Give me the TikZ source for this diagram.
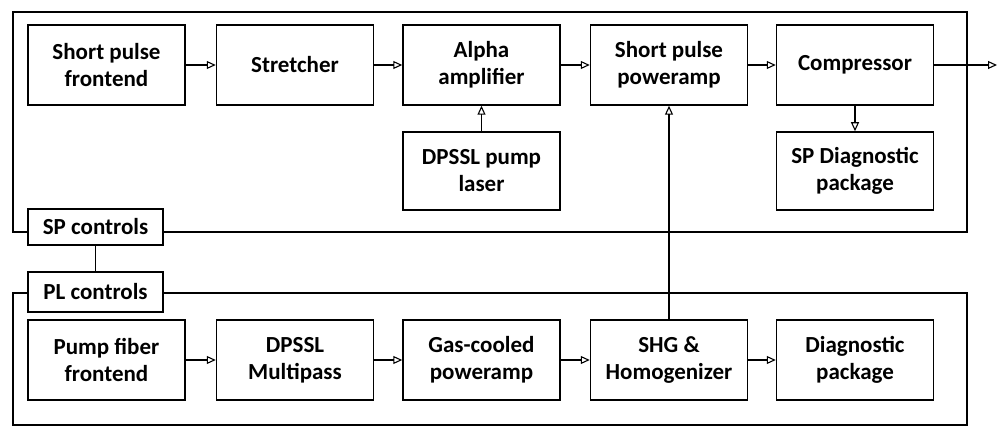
\documentclass[tikz,border=0pt]{standalone}
\usepackage{fontspec}
\setmainfont{Carlito}
\usetikzlibrary{arrows.meta}
\begin{document}
\begin{tikzpicture}[x=1pt,y=-1pt,
  blk/.style={draw, line width=1.5pt, minimum width=157pt, minimum height=80pt, align=center, inner sep=2pt,
    font=\bfseries\fontsize{23}{27}\selectfont},
  ctl/.style={draw, line width=1.5pt, fill=white, minimum width=135pt, align=center, inner sep=2pt,
    font=\bfseries\fontsize{23}{27}\selectfont},
  frame/.style={line width=1.5pt},
  conn/.style={line width=1.3pt, -{Triangle[open,length=9pt,width=8pt,line width=1.1pt]}},
  link/.style={line width=1.3pt}]
\useasboundingbox (0,0) rectangle (999,427);
\fill[white] (0,0) rectangle (999,427);
% frames
\draw[frame] (13,12) rectangle (967,232);
\draw[frame] (13,293) rectangle (967,425);
% top row
\node[blk] (spf) at (106.5,65) {Short pulse\\frontend};
\node[blk] (str) at (295,65) {Stretcher};
\node[blk] (alp) at (481.5,65) {Alpha\\amplifier};
\node[blk] (spp) at (669,65) {Short pulse\\poweramp};
\node[blk] (cmp) at (855,65) {Compressor};
\node[blk, minimum height=78pt] (dps) at (481.5,171) {DPSSL pump\\laser};
\node[blk, minimum height=78pt] (spd) at (855,171) {SP Diagnostic\\package};
% controls
\node[ctl, minimum height=36pt] (spc) at (95.5,227) {SP controls};
\node[ctl, minimum height=40pt] (plc) at (95.5,292) {PL controls};
% bottom row
\node[blk] (pff) at (106.5,360) {Pump fiber\\frontend};
\node[blk] (mul) at (295,360) {DPSSL\\Multipass};
\node[blk] (gas) at (481.5,360) {Gas-cooled\\poweramp};
\node[blk] (shg) at (669,360) {SHG \&\\Homogenizer};
\node[blk] (dia) at (855,360) {Diagnostic\\package};
\coordinate (out) at (997,65);
% connectors
\draw[conn] (spf) -- (str);
\draw[conn] (str) -- (alp);
\draw[conn] (alp) -- (spp);
\draw[conn] (spp) -- (cmp);
\draw[conn] (cmp) -- (out);
\draw[conn] (dps) -- (alp);
\draw[conn] (cmp) -- (spd);
\draw[conn] (shg) -- (spp);
\draw[link] (spc) -- (plc);
\draw[conn] (pff) -- (mul);
\draw[conn] (mul) -- (gas);
\draw[conn] (gas) -- (shg);
\draw[conn] (shg) -- (dia);
\end{tikzpicture}
\end{document}
